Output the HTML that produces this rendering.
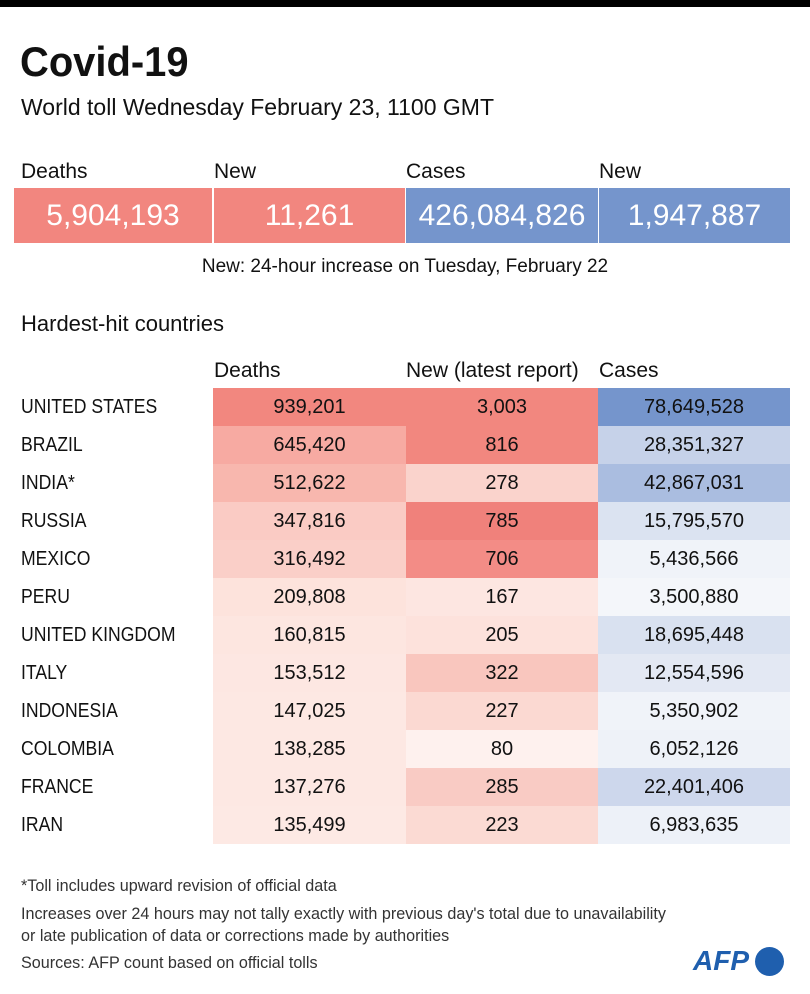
<!DOCTYPE html>
<html><head><meta charset="utf-8"><style>
*{margin:0;padding:0;box-sizing:border-box}
body{width:810px;height:994px;background:#fff;position:relative;overflow:hidden;font-family:"Liberation Sans",sans-serif;color:#111}
.a{position:absolute;white-space:nowrap}
.box{position:absolute;top:188px;height:55px;color:#fff;font-size:30px;text-align:center;line-height:55px}
.c{position:absolute;height:38px;line-height:38px;text-align:center;font-size:20px}
.n{position:absolute;left:21px;height:38px;line-height:38px;font-size:20px;transform:scaleX(0.88);transform-origin:left center}
.f{transform:scaleX(0.95);transform-origin:left top}
</style></head><body>
<div class="a" style="left:0;top:0;width:810px;height:7px;background:#000"></div>
<div class="a" style="left:20px;top:38px;font-size:42px;font-weight:bold;transform:scaleX(0.95);transform-origin:left top">Covid-19</div>
<div class="a" style="left:21px;top:94px;font-size:23px">World toll Wednesday February 23, 1100 GMT</div>
<div class="a" style="left:21px;top:160px;font-size:21px">Deaths</div>
<div class="a" style="left:214px;top:160px;font-size:21px">New</div>
<div class="a" style="left:406px;top:160px;font-size:21px">Cases</div>
<div class="a" style="left:599px;top:160px;font-size:21px">New</div>
<div class="box" style="left:14px;width:198px;background:#f2867f">5,904,193</div>
<div class="box" style="left:214px;width:191px;background:#f2867f">11,261</div>
<div class="box" style="left:406px;width:192px;background:#7595cc">426,084,826</div>
<div class="box" style="left:599px;width:191px;background:#7595cc">1,947,887</div>
<div class="a" style="left:0;width:810px;text-align:center;top:256px;font-size:19px">New: 24-hour increase on Tuesday, February 22</div>
<div class="a" style="left:21px;top:311px;font-size:22px">Hardest-hit countries</div>
<div class="a" style="left:214px;top:359px;font-size:21px">Deaths</div>
<div class="a" style="left:406px;top:359px;font-size:21px">New (latest report)</div>
<div class="a" style="left:599px;top:359px;font-size:21px">Cases</div>
<div id="t"></div>
<div class="a f" style="left:21px;top:876px;font-size:17px;color:#333">*Toll includes upward revision of official data</div>
<div class="a f" style="left:21px;top:903px;font-size:17px;color:#333;line-height:22px">Increases over 24 hours may not tally exactly with previous day's total due to unavailability<br>or late publication of data or corrections made by authorities</div>
<div class="a f" style="left:21px;top:953px;font-size:17px;color:#333">Sources: AFP count based on official tolls</div>
<div class="a" style="left:693px;top:945px;font-size:28px;font-weight:bold;font-style:italic;color:#1f5fae">AFP</div>
<div class="a" style="left:755px;top:947px;width:29px;height:29px;border-radius:50%;background:#1f5fae"></div>
<script>
var d=[["UNITED STATES","939,201","3,003","78,649,528","#f2877f","#f2877f","#7595cc"],
["BRAZIL","645,420","816","28,351,327","#f7aaa2","#f2877f","#c6d2e9"],
["INDIA*","512,622","278","42,867,031","#f8b7ae","#fad3cc","#aabde0"],
["RUSSIA","347,816","785","15,795,570","#facbc4","#f0817b","#dbe3f1"],
["MEXICO","316,492","706","5,436,566","#facfc8","#f38c86","#f0f3f9"],
["PERU","209,808","167","3,500,880","#fde3dc","#fde6e1","#f4f6fa"],
["UNITED KINGDOM","160,815","205","18,695,448","#fde6e0","#fde2dc","#d9e1f0"],
["ITALY","153,512","322","12,554,596","#fde7e2","#f9c6be","#e3e8f3"],
["INDONESIA","147,025","227","5,350,902","#fde8e3","#fbd9d2","#f0f3f9"],
["COLOMBIA","138,285","80","6,052,126","#fde8e3","#fef1ee","#eef2f8"],
["FRANCE","137,276","285","22,401,406","#fde8e3","#f9cbc4","#cdd7ec"],
["IRAN","135,499","223","6,983,635","#fde9e4","#fbdad3","#edf1f8"]];
var h="";d.forEach(function(r,i){var y=388+i*38;
h+='<div class="n" style="top:'+y+'px">'+r[0]+'</div>';
h+='<div class="c" style="top:'+y+'px;left:213px;width:193px;background:'+r[4]+'">'+r[1]+'</div>';
h+='<div class="c" style="top:'+y+'px;left:406px;width:192px;background:'+r[5]+'">'+r[2]+'</div>';
h+='<div class="c" style="top:'+y+'px;left:598px;width:192px;background:'+r[6]+'">'+r[3]+'</div>';});
document.getElementById("t").innerHTML=h;
</script>
</body></html>
